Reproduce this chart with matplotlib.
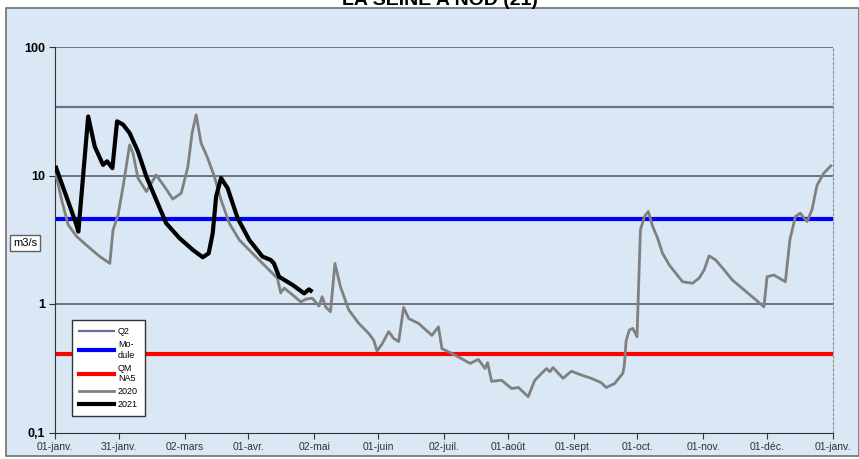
import matplotlib.pyplot as plt
from matplotlib.patches import Rectangle

# Débits de référence (m3/s)
q2 = 34.0
module = 4.6
qmna5 = 0.41

# Année 2020 (jour depuis le 01-janv., débit m3/s)
jours_2020 = [0.5, 3.1, 6.2, 10.2, 16.4, 21.1, 25.8, 27.3, 29.7, 32.3, 35.1, 36.7, 39, 43,
              47.6, 51.5, 55.4, 59.4, 62.5, 64.5, 66.4, 68.7, 71.8, 75, 78.1, 82, 86.7,
              92.9, 99.2, 104.6, 106.2, 107.8, 111.7, 115.6, 118, 121, 124.2, 125.7,
              127.3, 129.6, 131.7, 134.3, 138.2, 142.9, 147.6, 150, 151.5, 153.9, 157,
              159.3, 161.7, 164, 166.4, 171, 177.3, 180.4, 182, 188.2, 195.3, 199.2,
              202.3, 203.5, 205.4, 210.1, 214.8, 218, 222.6, 225.7, 231.2, 232.8, 234.3,
              239, 242.9, 247.6, 252.3, 257, 259.3, 263.2, 267.1, 267.8, 268.7, 270.2,
              271.8, 273.8, 275.4, 277.3, 279.1, 281.2, 283.5, 285.8, 289, 295.2, 299.9,
              303, 305.4, 307.7, 310.8, 314.8, 318.6, 324.1, 328.8, 333.5, 335, 338.2,
              343.6, 345.7, 348.3, 350.6, 353.8, 356.1, 358.5, 361.6, 365]
debit_2020 = [10.1, 6.47, 4.13, 3.35, 2.72, 2.34, 2.07, 3.77, 4.94, 8.74, 17.3, 14.9, 9.55,
              7.5, 10.1, 8.2, 6.55, 7.3, 11.7, 21.4, 29.7, 17.9, 13.7, 9.8, 6.47, 4.25,
              3.15, 2.48, 1.95, 1.59, 1.22, 1.33, 1.18, 1.04, 1.09, 1.11, 0.965, 1.14,
              0.95, 0.87, 2.07, 1.36, 0.9, 0.707, 0.59, 0.52, 0.43, 0.49, 0.61, 0.54,
              0.51, 0.94, 0.77, 0.707, 0.57, 0.665, 0.45, 0.40, 0.345, 0.37, 0.315, 0.35,
              0.25, 0.255, 0.22, 0.224, 0.19, 0.255, 0.315, 0.297, 0.32, 0.264, 0.30,
              0.28, 0.264, 0.244, 0.224, 0.24, 0.288, 0.33, 0.52, 0.627, 0.646, 0.556,
              3.77, 4.79, 5.25, 4.0, 3.25, 2.48, 2.01, 1.49, 1.45, 1.59, 1.84, 2.37, 2.2,
              1.84, 1.54, 1.29, 1.11, 0.95, 1.63, 1.68, 1.49, 3.15, 4.79, 5.09, 4.38, 5.4,
              8.4, 10.4, 11.9]

# Année 2021
jours_2021 = [0.5, 9.8, 11, 15.6, 18.7, 22.6, 24.5, 27, 29.2, 32, 35.1, 39, 43, 47.6,
              52.3, 58.6, 64.8, 69.5, 72.3, 74.2, 75.8, 78.1, 81.2, 85.9, 91.4, 97.6,
              101.5, 103, 105.4, 111.7, 117.2, 119.5, 120.3]
debit_2021 = [11.5, 4.27, 3.66, 28.8, 16.8, 12.1, 12.9, 11.4, 26.4, 24.9, 21.4, 15.4, 9.8,
              6.47, 4.25, 3.25, 2.64, 2.31, 2.48, 3.56, 6.86, 9.55, 7.97, 4.66, 3.15, 2.34,
              2.2, 2.07, 1.63, 1.41, 1.21, 1.30, 1.27]

jours_ticks = [0, 30, 61, 91, 122, 152, 183, 213, 244, 274, 305, 335, 366]
labels_ticks = ['01-janv.', '31-janv.', '02-mars', '01-avr.', '02-mai', '01-juin', '02-juil.',
                '01-août', '01-sept.', '01-oct.', '01-nov.', '01-déc.', '01-janv.']

plt.rcParams['font.family'] = ['Liberation Sans', 'DejaVu Sans']

W, H = 859, 459
fig = plt.figure(figsize=(W / 100, H / 100), dpi=100)
fig.patch.set_facecolor('white')

# cadre de fond bleu clair
fond = Rectangle((6 / W, 1 - 456 / H), (W - 6) / W, (456 - 8) / H, transform=fig.transFigure,
                 facecolor='#dae7f4', edgecolor='#707070', linewidth=1.2, zorder=-5)
fig.patches.append(fond)

# titre (coupé en haut comme sur l'original)
fig.text(440 / W, 1 - 5 / H, 'LA SEINE A NOD (21)', ha='center', va='baseline',
         fontsize=14, fontweight='bold', color='black')

ax = fig.add_axes([55 / W, 1 - 432.5 / H, (833 - 55) / W, (432.5 - 47) / H])
ax.set_facecolor('none')
ax.set_yscale('log')
ax.set_ylim(0.1, 100)
ax.set_xlim(0, 366)

for v in [1, 10, 100]:
    ax.axhline(v, color='#505060', linewidth=1.1, zorder=1)

ax.axhline(q2, color='#6c6c94', linewidth=1.6, label='Q2', zorder=2)
ax.axhline(module, color='#0000ff', linewidth=3, label='Mo-\ndule', zorder=2)
ax.axhline(qmna5, color='#ff0000', linewidth=3, label='QM\nNA5', zorder=2)
ax.plot(jours_2020, debit_2020, color='#808080', linewidth=2, label='2020', zorder=3)
ax.plot(jours_2021, debit_2021, color='black', linewidth=3, label='2021', zorder=4)

ax.set_xticks(jours_ticks)
ax.set_xticklabels(labels_ticks, fontsize=7.5, color='#333333')
ax.set_yticks([0.1, 1, 10, 100])
ax.set_yticklabels(['0,1', '1', '10', '100'], fontsize=9, fontweight='bold')
ax.minorticks_off()
ax.tick_params(axis='both', direction='out', length=4, color='#333333', pad=3)

ax.spines['top'].set_visible(False)
ax.spines['right'].set_linestyle((0, (2, 2)))
ax.spines['right'].set_color('#909090')
ax.spines['left'].set_color('#333333')
ax.spines['bottom'].set_color('#333333')

fig.text(25 / W, 1 - 243 / H, 'm3/s', ha='center', va='center', fontsize=8,
         bbox=dict(boxstyle='square,pad=0.3', facecolor='white', edgecolor='#606060', linewidth=1))

leg = ax.legend(loc='upper left', bbox_to_anchor=(72 / W, 1 - 320 / H),
                bbox_transform=fig.transFigure, borderaxespad=0, fontsize=6.5,
                fancybox=False, framealpha=1, edgecolor='#333333', handlelength=3.8,
                labelspacing=0.45, borderpad=0.8, handletextpad=0.5)
leg.get_frame().set_linewidth(1)

fig.savefig('out.png', dpi=100)
